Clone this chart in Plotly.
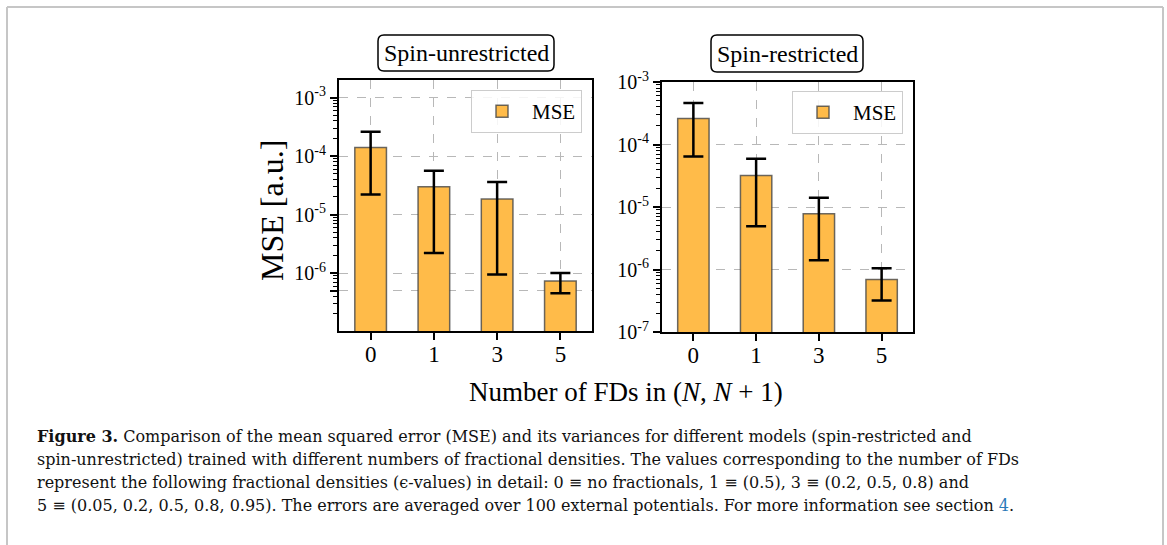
import plotly.graph_objects as go

# ---------------- data ----------------
categories = ["0", "1", "3", "5"]

unres_mse = [1.4e-4, 3.0e-5, 1.85e-5, 7.3e-7]
unres_upper = [2.6e-4, 5.6e-5, 3.6e-5, 1.0e-6]
unres_lower = [2.2e-5, 2.2e-6, 9.5e-7, 4.5e-7]

res_mse = [2.6e-4, 3.2e-5, 7.8e-6, 6.9e-7]
res_upper = [4.6e-4, 5.9e-5, 1.4e-5, 1.05e-6]
res_lower = [6.4e-5, 4.9e-6, 1.4e-6, 3.2e-7]

left_tickvals = [1e-6, 1e-5, 1e-4, 1e-3, 5e-7]
left_ticktext = ["10<sup>-6</sup>", "10<sup>-5</sup>", "10<sup>-4</sup>", "10<sup>-3</sup>", ""]
right_tickvals = [1e-7, 1e-6, 1e-5, 1e-4, 1e-3]
right_ticktext = ["10<sup>-7</sup>", "10<sup>-6</sup>", "10<sup>-5</sup>", "10<sup>-4</sup>", "10<sup>-3</sup>"]

panel_titles = ["Spin-unrestricted", "Spin-restricted"]
caption_lines = [
    "<b>Figure 3.</b> Comparison of the mean squared error (MSE) and its variances for different models (spin-restricted and",
    "spin-unrestricted) trained with different numbers of fractional densities. The values corresponding to the number of FDs",
    "represent the following fractional densities (\u03f5-values) in detail: 0 \u2261 no fractionals, 1 \u2261 (0.5), 3 \u2261 (0.2, 0.5, 0.8) and",
    "5 \u2261 (0.05, 0.2, 0.5, 0.8, 0.95). The errors are averaged over 100 external potentials. For more information see section <span style='color:#2b7bb9'>4</span>.",
]

# ---------------- style ----------------
W, H = 1167, 545
SERIF = "Liberation Serif, Times New Roman, serif"
CAP_FONT = "DejaVu Serif, serif"
BAR_FILL = "#FFBB49"
BAR_EDGE = "rgba(70,70,70,0.8)"
GRID = "#b8b8b8"


def px_x(p):
    return p / W


def px_y(p):
    return 1 - p / H


fig = go.Figure()


def add_panel(values, upper, lower, xa, ya, legend):
    plus = [u - v for u, v in zip(upper, values)]
    minus = [v - l for v, l in zip(values, lower)]
    fig.add_trace(go.Bar(
        x=categories, y=values, name="MSE", width=0.5, showlegend=True,
        xaxis=xa, yaxis=ya, legend=legend,
        marker=dict(color=BAR_FILL, line=dict(color=BAR_EDGE, width=1.5)),
        error_y=dict(type="data", symmetric=False, array=plus, arrayminus=minus,
                     color="black", thickness=2.5, width=10),
    ))


add_panel(unres_mse, unres_upper, unres_lower, "x", "y", "legend")
add_panel(res_mse, res_upper, res_lower, "x2", "y2", "legend2")

axis_common = dict(
    showline=True, linecolor="black", linewidth=2, mirror=True,
    showgrid=True, gridcolor=GRID, griddash="dash", gridwidth=1,
    ticks="outside", ticklen=7, tickwidth=1.5, tickcolor="black",
    zeroline=False, automargin=False,
)

xcommon = dict(axis_common, tickfont=dict(family=SERIF, size=23, color="black"),
               type="category", range=[-0.5, 3.5], ticklabelstandoff=-6)
ycommon = dict(axis_common, type="log", tickmode="array",
               tickfont=dict(family=SERIF, size=20, color="black"),
               minor=dict(ticks="outside", ticklen=4, tickcolor="black", tickwidth=1,
                          dtick="D1", showgrid=False))

legend_common = dict(xanchor="right", yanchor="top", itemwidth=50,
                     bgcolor="rgba(255,255,255,0.85)", bordercolor="#cccccc", borderwidth=1,
                     font=dict(family=SERIF, size=21, color="black"))

fig.update_layout(
    template="none",
    width=W, height=H,
    margin=dict(l=0, r=0, t=0, b=0, pad=0, autoexpand=False),
    paper_bgcolor="white", plot_bgcolor="white",
    font=dict(family=SERIF, color="black"),
    showlegend=True,
    xaxis=dict(xcommon, domain=[px_x(339), px_x(592)], anchor="y"),
    yaxis=dict(ycommon, domain=[px_y(331), px_y(80)], anchor="x",
               range=[-6.99, -2.70], tickvals=left_tickvals, ticktext=left_ticktext),
    xaxis2=dict(xcommon, domain=[px_x(662), px_x(913)], anchor="y2"),
    yaxis2=dict(ycommon, domain=[px_y(332), px_y(82)], anchor="x2",
                range=[-7, -3], tickvals=right_tickvals, ticktext=right_ticktext),
    legend=dict(legend_common, x=px_x(582), y=px_y(90)),
    legend2=dict(legend_common, x=px_x(903), y=px_y(91)),
)


def rounded_box(x0, y0, x1, y1, r):
    rx, ry = r / W, r / H
    X0, X1 = px_x(x0), px_x(x1)
    Y0, Y1 = px_y(y1), px_y(y0)
    return (f"M {X0+rx},{Y1} L {X1-rx},{Y1} Q {X1},{Y1} {X1},{Y1-ry} "
            f"L {X1},{Y0+ry} Q {X1},{Y0} {X1-rx},{Y0} L {X0+rx},{Y0} "
            f"Q {X0},{Y0} {X0},{Y0+ry} L {X0},{Y1-ry} Q {X0},{Y1} {X0+rx},{Y1} Z")


shapes = []
for (xa, ya, xb, yb) in [(7, 7, 1163, 7), (7, 7, 7, 545), (1163, 7, 1163, 545)]:
    shapes.append(dict(type="line", xref="paper", yref="paper",
                       x0=px_x(xa), y0=px_y(ya), x1=px_x(xb), y1=px_y(yb),
                       line=dict(color="#c6c6c6", width=2)))
shapes.append(dict(type="path", xref="paper", yref="paper",
                   path=rounded_box(378, 35, 554, 71, 6), line=dict(color="black", width=1.5),
                   fillcolor="white"))
shapes.append(dict(type="path", xref="paper", yref="paper",
                   path=rounded_box(711, 35, 863, 72, 6), line=dict(color="black", width=1.5),
                   fillcolor="white"))
fig.update_layout(shapes=shapes)

annotations = [
    dict(text=panel_titles[0], x=px_x(466), y=px_y(53), xref="paper", yref="paper",
         xanchor="center", yanchor="middle", showarrow=False,
         font=dict(family=SERIF, size=24, color="black")),
    dict(text=panel_titles[1], x=px_x(787), y=px_y(53.5), xref="paper", yref="paper",
         xanchor="center", yanchor="middle", showarrow=False,
         font=dict(family=SERIF, size=24, color="black")),
    dict(text="MSE [a.u.]", x=px_x(272), y=px_y(211), xref="paper", yref="paper",
         xanchor="center", yanchor="middle", showarrow=False, textangle=-90,
         font=dict(family=SERIF, size=32, color="black")),
    dict(text="Number of FDs in (<i>N</i>, <i>N</i> + 1)", x=px_x(626), y=px_y(392),
         xref="paper", yref="paper", xanchor="center", yanchor="middle", showarrow=False,
         font=dict(family=SERIF, size=27, color="black")),
]
for line, yy in zip(caption_lines, [436, 459, 482, 505]):
    annotations.append(dict(text=line, x=px_x(35), y=px_y(yy), xref="paper", yref="paper",
                            xanchor="left", yanchor="middle", align="left", showarrow=False,
                            font=dict(family=CAP_FONT, size=16, color="#111111")))
fig.update_layout(annotations=annotations)

fig.write_html("out.html")
